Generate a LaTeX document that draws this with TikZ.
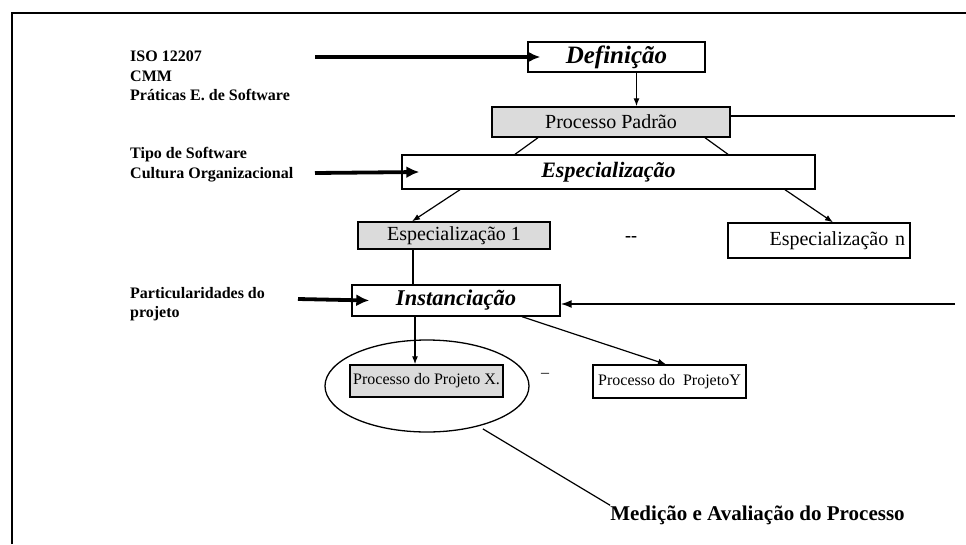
\documentclass[tikz,border=0pt]{standalone}
\usepackage{fontspec}
\setmainfont{Liberation Serif}
\usetikzlibrary{arrows.meta,shapes.geometric,calc}
\begin{document}
\begin{tikzpicture}[x=1pt,y=-1pt,
  box/.style={draw, line width=1.4pt, inner sep=0pt, anchor=center},
  shaded/.style={box, fill=black!14},
  plain/.style={box, fill=white},
  bigarrow/.style={line width=3.8pt, -{Latex[length=13pt,width=12pt]}},
  thinarrow/.style={line width=1.2pt, -{Latex[length=8pt,width=6pt]}},
  thinline/.style={line width=1.2pt},
  lab/.style={font=\fontsize{16}{19.5}\selectfont\bfseries, align=left, anchor=west, inner sep=0pt},
]
\useasboundingbox (0,0) rectangle (966,544);
% frame
\draw[line width=1.8pt] (12,544) -- (12,13) -- (966,13);

% boxes
\node[plain, minimum width=177pt, minimum height=30pt, font=\fontsize{25}{25}\selectfont\bfseries\itshape] (def) at (616.5,57) {Definição};
\node[shaded, minimum width=238pt, minimum height=30pt, font=\fontsize{20}{20}\selectfont] (pp) at (611,122) {Processo Padrão};
\node[plain, minimum width=413pt, minimum height=34pt, font=\fontsize{22}{22}\selectfont\bfseries\itshape] (esp) at (608.5,172) {Especialização};
\node[shaded, minimum width=192pt, minimum height=27pt, font=\fontsize{20}{20}\selectfont] (esp1) at (454,235.5) {Especialização 1};
\node[plain, text width=172pt, align=right, inner xsep=5pt, inner ysep=0pt, minimum height=35pt, font=\fontsize{20}{20}\selectfont] (espn) at (819,240.5) {Especialização n};
\node[plain, minimum width=208pt, minimum height=31pt, font=\fontsize{22.5}{22.5}\selectfont\bfseries\itshape] (inst) at (456,300.5) {Instanciação};
\node[draw, ellipse, line width=1.3pt, minimum width=204pt, minimum height=92pt, inner sep=0pt] (ell) at (427,386) {};
\node[shaded, minimum width=153pt, minimum height=32pt, font=\fontsize{16}{16}\selectfont] (px) at (426.5,381) {Processo do Projeto X.};
\node[plain, minimum width=153pt, minimum height=33pt, font=\fontsize{16}{16}\selectfont] (py) at (669.5,381.5) {Processo do~ ProjetoY};

% small dashes
\node[font=\fontsize{18}{18}\selectfont\bfseries, inner sep=0pt] (dots) at (631,239) {-{}-};
\node[font=\fontsize{16}{16}\selectfont, inner sep=0pt] (dash) at (545,375) {–};

% left labels
\node[lab] (l1) at (130,76) {ISO 12207\\CMM\\Práticas E. de Software};
\node[lab] (l2) at (130,164.5) {Tipo de Software\\Cultura Organizacional};
\node[lab] (l3) at (130,304) {Particularidades do\\projeto};

% bottom label
\node[font=\fontsize{21}{21}\selectfont\bfseries, inner sep=0pt] (med) at (757.5,515) {Medição e Avaliação do Processo};

% free ends
\coordinate (a1s) at (315,57);
\coordinate (a2s) at (315,173);
\coordinate (a3s) at (298,299);
\coordinate (ppr) at (955,116);
\coordinate (instr) at (955,304);

% thick input arrows
\draw[bigarrow] (a1s) -- ([xshift=13pt]def.west);
\draw[bigarrow] (a2s) -- ([xshift=18pt]esp.west);
\draw[bigarrow] (a3s) -- ([xshift=18pt]inst.west);

% right side lines
\draw[line width=1.5pt] ([yshift=6pt]pp.east) -- (ppr);
\draw[line width=1.6pt, -{Latex[length=11pt,width=8pt]}] (instr) -- ([yshift=-3.5pt]inst.east);

% tree connectors
\draw[thinarrow] ([xshift=20pt]def.south) -- ([xshift=20pt]def.south |- pp.north);
\draw[thinline] ([xshift=-73pt]pp.south) -- ([xshift=-93.5pt]esp.north);
\draw[thinline] ([xshift=94pt]pp.south) -- ([xshift=119.5pt]esp.north);
\draw[thinarrow] ([xshift=-148.5pt]esp.south) -- ([xshift=-42pt]esp1.north);
\draw[thinarrow] ([xshift=176.5pt]esp.south) -- ([xshift=14pt]espn.north);
\draw[thinline] ([xshift=-41pt]esp1.south) -- ([xshift=-41pt]esp1.south |- inst.north);
\draw[thinarrow] ([xshift=-41pt]inst.south) -- ([xshift=-41pt]inst.south |- px.north);
\draw[thinarrow] ([xshift=66pt]inst.south) -- ([xshift=-3.5pt]py.north);
\draw[thinline, shorten <=5pt] (ell.-38) -- (med.north west);
\end{tikzpicture}
\end{document}
